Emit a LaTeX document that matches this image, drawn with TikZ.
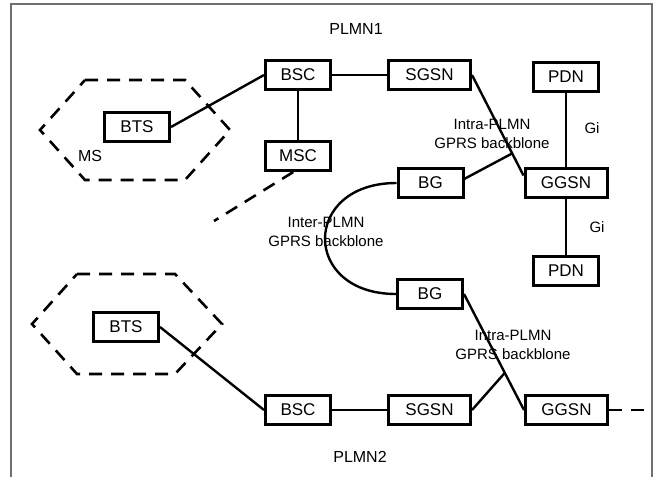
\documentclass[tikz,border=0pt]{standalone}
\usepackage{fontspec}
\setmainfont{Liberation Sans}
\usetikzlibrary{positioning, calc}
\definecolor{FrameGray}{HTML}{707070}

\begin{document}
\begin{tikzpicture}[
  x=1pt, y=-1pt,
  node distance=55pt,
  box/.style={rectangle, draw, line width=3pt, minimum width=65pt,
              minimum height=29pt, inner sep=0pt, text centered,
              font=\fontsize{17}{20}\selectfont},
  widebox/.style={box, minimum width=82pt},
  link/.style={line width=2.4pt},
  cell/.style={line width=2.6pt, dash pattern=on 13pt off 9pt},
  lbl/.style={align=center, font=\fontsize{15}{19}\selectfont},
  title/.style={font=\fontsize{16}{19}\selectfont},
  frame/.style={line width=1.2pt, FrameGray},
]
\useasboundingbox (0,0) rectangle (658,477);
\draw[frame] (11,477) -- (11,4) -- (652,4) -- (652,477);

\node[box] (bscA) at (298,75) {BSC};
\node[widebox, right=55pt of bscA] (sgsnA) {SGSN};
\node[box, below=49pt of bscA] (mscA) {MSC};
\node[box] (btsA) at (137,127) {BTS};
\node[box] (pdnA) at (566,77) {PDN};
\node[widebox, below=74pt of pdnA] (ggsnA) {GGSN};
\node[box, left=59pt of ggsnA] (bgA) {BG};
\node[box, below=56pt of ggsnA] (pdnB) {PDN};
\node[box] (bgB) at (430,294) {BG};
\node[box] (btsB) at (126,327) {BTS};
\node[box] (bscB) at (298,410) {BSC};
\node[widebox, right=55pt of bscB] (sgsnB) {SGSN};
\node[widebox, right=52pt of sgsnB] (ggsnB) {GGSN};

\node[title] (plmnA) at (356,29) {PLMN1};
\node[title] (plmnB) at (360,457) {PLMN2};
\node[title] (ms) at (90,156) {MS};
\node[lbl] (giA) at (592,128) {Gi};
\node[lbl] (giB) at (597,227) {Gi};
\node[lbl] (intraA) at (492,134) {Intra-PLMN\\GPRS backblone};
\node[lbl] (inter) at (326,232) {Inter-PLMN\\GPRS backblone};
\node[lbl] (intraB) at (513,345) {Intra-PLMN\\GPRS backblone};

\coordinate (mscEnd) at (214,221);
\coordinate (ggsnEnd) at (646,410);

% cells
\draw[cell] (85,80) -- (185,80) -- (230,130) -- (185,180) -- (85,180)
  -- (40,130) -- cycle;
\draw[cell] (77,274) -- (175,274) -- (222,324) -- (175,374) -- (77,374)
  -- (32,324) -- cycle;

\draw[link] (btsA.east) -- (bscA.west);
\draw[link] (bscA) -- (sgsnA);
\draw[link] (bscA) -- (mscA);
\draw[link] (sgsnA.east) -- (ggsnA.170);
\coordinate (jA) at ($(sgsnA.east)!0.78!(ggsnA.170)$);
\draw[link] (bgA.7) -- (jA);
\draw[link] (pdnA) -- (ggsnA);
\draw[link] (ggsnA) -- (pdnB);
\draw[link] (bgA.west) .. controls +(-95,0) and +(-95,0) .. (bgB.west);
\draw[cell] ($(mscA.south west)!0.43!(mscA.south east)$) -- (mscEnd);

\draw[link] (btsB.east) -- (bscB.west);
\draw[link] (bscB) -- (sgsnB);
\draw[link] (bgB.east) -- (ggsnB.west);
\coordinate (jB) at ($(bgB.east)!0.68!(ggsnB.west)$);
\draw[link] (sgsnB.east) -- (jB);
\draw[cell] (ggsnB.east) -- (ggsnEnd);

\end{tikzpicture}
\end{document}
